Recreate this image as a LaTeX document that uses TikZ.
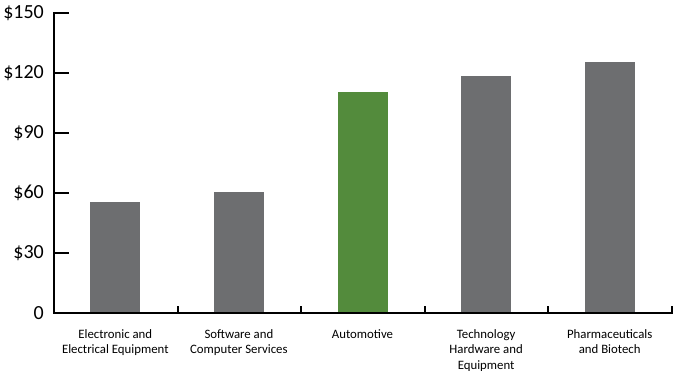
\documentclass[tikz,border=0pt]{standalone}
\usepackage{fontspec}
\setmainfont{Carlito}
\definecolor{barGris}{HTML}{6D6E70}
\definecolor{barVert}{HTML}{538B3C}
\begin{document}
\begin{tikzpicture}[x=1pt, y=1pt]

    % Styles
    \tikzstyle{bar} = [rectangle, inner sep=0pt, minimum width=50pt, anchor=south, draw=none]
    \tikzstyle{axe} = [line width=2pt, line cap=rect]
    \tikzstyle{valeur} = [anchor=east, inner sep=0pt, font=\fontsize{20}{24}\selectfont]
    \tikzstyle{categorie} = [anchor=north, align=center, inner sep=0pt, font=\fontsize{12.8}{15.8}\selectfont]

    \useasboundingbox (0,0) rectangle (673,371);

    % Axes
    \coordinate (origine) at (54,58);
    \coordinate (haut) at (54,358);
    \coordinate (droite) at (672,58);
    \draw [axe] (haut) -- (origine) -- (droite);
    \foreach \v in {30,60,...,150}
        \draw [axe] (54,58+2*\v) -- (68,58+2*\v);
    \foreach \k in {1,...,5}
        \draw [axe] (54+123.6*\k,58) -- (54+123.6*\k,64);

    % Valeurs
    \node (v0) [valeur] at (44,58) {0};
    \node (v30) [valeur] at (44,118) {\$30};
    \node (v60) [valeur] at (44,178) {\$60};
    \node (v90) [valeur] at (44,238) {\$90};
    \node (v120) [valeur] at (44,298) {\$120};
    \node (v150) [valeur] at (44,358) {\$150};

    % Barres
    \node (elec) [bar, fill=barGris, minimum height=110pt] at (115.3,59) {};
    \node (soft) [bar, fill=barGris, minimum height=120pt] at (238.9,59) {};
    \node (auto) [bar, fill=barVert, minimum height=220pt] at (362.5,59) {};
    \node (tech) [bar, fill=barGris, minimum height=236pt] at (486.1,59) {};
    \node (pharma) [bar, fill=barGris, minimum height=250pt] at (609.7,59) {};

    % Categories
    \node (celec) [categorie] at ([yshift=-17pt]elec.south) {Electronic and\\Electrical Equipment};
    \node (csoft) [categorie] at ([yshift=-17pt]soft.south) {Software and\\Computer Services};
    \node (cauto) [categorie] at ([yshift=-17pt]auto.south) {Automotive};
    \node (ctech) [categorie] at ([yshift=-17pt]tech.south) {Technology\\Hardware and\\Equipment};
    \node (cpharma) [categorie] at ([yshift=-17pt]pharma.south) {Pharmaceuticals\\and Biotech};

\end{tikzpicture}
\end{document}
